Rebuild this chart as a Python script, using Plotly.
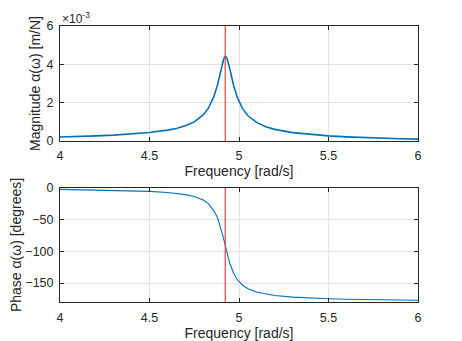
import plotly.graph_objects as go

# Frequency response of a single-mode structure around its resonance
freq_mag = [4.0, 4.1, 4.2, 4.3, 4.4, 4.5, 4.6, 4.65, 4.7, 4.75, 4.8, 4.83, 4.86,
            4.87, 4.88, 4.89, 4.90, 4.905, 4.91, 4.915, 4.92, 4.923, 4.926, 4.93,
            4.935, 4.94, 4.945, 4.95, 4.96, 4.97, 4.99, 5.02, 5.05, 5.1, 5.15,
            5.2, 5.3, 5.4, 5.5, 5.6, 5.7, 5.8, 5.9, 6.0]
# |alpha(omega)| in units of 1e-3 m/N
magnitude_e3 = [0.21, 0.23, 0.27, 0.31, 0.37, 0.45, 0.57, 0.66, 0.80, 1.00, 1.36, 1.73, 2.33,
                2.61, 2.94, 3.33, 3.75, 3.98, 4.14, 4.30, 4.38, 4.44, 4.36, 4.37,
                4.25, 4.11, 3.92, 3.72, 3.29, 2.90, 2.29, 1.69, 1.32, 0.96, 0.75,
                0.61, 0.44, 0.34, 0.27, 0.22, 0.18, 0.15, 0.12, 0.10]

freq_phase = [4.0, 4.1, 4.2, 4.3, 4.4, 4.5, 4.6, 4.65, 4.7, 4.75, 4.8, 4.83, 4.86,
              4.88, 4.90, 4.91, 4.92, 4.925, 4.93, 4.94, 4.95, 4.97, 4.99, 5.02,
              5.05, 5.1, 5.15, 5.2, 5.3, 5.4, 5.5, 5.6, 5.7, 5.8, 5.9, 6.0]
phase_deg = [-2.2, -2.6, -3.0, -3.6, -4.3, -5.3, -7.2, -8.7, -10.5, -13.5, -19.0, -25.0, -36.0,
             -47.0, -64.0, -75.5, -86.5, -91.0, -98.5, -110.0, -120.0, -134.5, -144.5, -153.5,
             -159.0, -164.5, -167.6, -169.7, -172.3, -173.8, -174.9, -175.6, -176.1, -176.5, -176.9, -177.3]

resonance_freq = 4.923

x_ticks = [4, 4.5, 5, 5.5, 6]
mag_ticks = [0, 2, 4, 6]
phase_ticks = [-150, -100, -50, 0]

line_blue = "#0072BD"
marker_red = "rgb(232,64,64)"
ink = "#262626"
grid = "#E2E2E2"
font_family = "Liberation Sans, Arial, sans-serif"

fig = go.Figure()
fig.add_trace(go.Scatter(x=freq_mag, y=magnitude_e3, mode="lines",
                         line=dict(color=line_blue, width=1.6),
                         xaxis="x", yaxis="y", showlegend=False))
fig.add_trace(go.Scatter(x=freq_phase, y=phase_deg, mode="lines",
                         line=dict(color=line_blue, width=1.1),
                         xaxis="x2", yaxis="y2", showlegend=False))

# Resonance marker across both panels
for xr, yr in (("x", "y domain"), ("x2", "y2 domain")):
    fig.add_shape(type="line", xref=xr, yref=yr,
                  x0=resonance_freq, x1=resonance_freq, y0=0, y1=1,
                  line=dict(color=marker_red, width=1.2))

axis_common = dict(
    showline=True, linecolor=ink, linewidth=1, mirror="ticks",
    ticks="inside", ticklen=4, tickcolor=ink,
    showgrid=True, gridcolor=grid, gridwidth=1,
    zeroline=False, automargin=False,
    tickfont=dict(family=font_family, size=12.5, color=ink),
)
title_font = dict(family=font_family, size=14, color=ink)

fig.update_layout(
    width=462, height=341,
    margin=dict(l=60, r=44, t=26, b=39, autoexpand=False),
    paper_bgcolor="white", plot_bgcolor="white",
    font=dict(family=font_family, color=ink),
    xaxis=dict(axis_common, domain=[0, 1], range=[4, 6], tickvals=x_ticks,
               anchor="y", ticklabelstandoff=3,
               title=dict(text="Frequency [rad/s]", font=title_font, standoff=3)),
    yaxis=dict(axis_common, domain=[0.583, 1], range=[0, 6], tickvals=mag_ticks,
               anchor="x", ticklabelstandoff=3,
               title=dict(text="Magnitude α(ω) [m/N]", font=title_font, standoff=2)),
    xaxis2=dict(axis_common, domain=[0, 1], range=[4, 6], tickvals=x_ticks,
                anchor="y2", ticklabelstandoff=4,
                title=dict(text="Frequency [rad/s]", font=title_font, standoff=3)),
    yaxis2=dict(axis_common, domain=[0, 0.413], range=[-180, 0], tickvals=phase_ticks,
                anchor="x2", ticklabelstandoff=3,
                title=dict(text="Phase α(ω) [degrees]", font=title_font, standoff=0)),
)

# Exponent label for the magnitude axis
fig.add_annotation(text="×10<sup>-3</sup>", xref="paper", yref="paper",
                   x=0.0, y=1.0, xanchor="left", yanchor="bottom", yshift=-2,
                   showarrow=False, font=dict(family=font_family, size=12, color=ink))

fig.write_html("out.html")
